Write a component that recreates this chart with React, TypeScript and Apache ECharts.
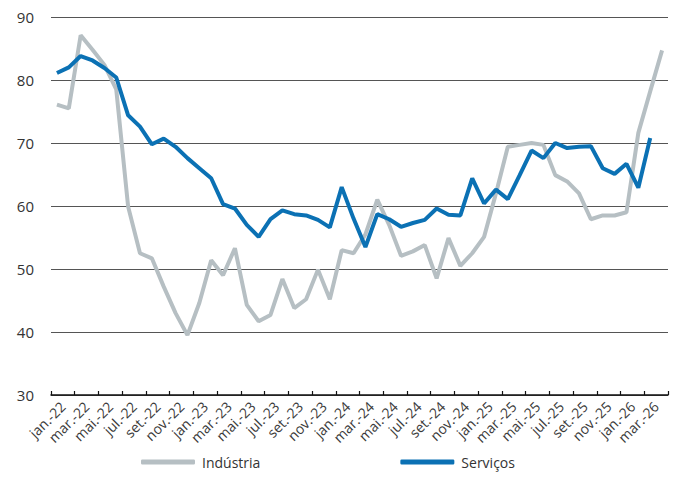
import React, { useEffect, useRef } from "react";
import * as echarts from "echarts";

const months: string[] = [
  "jan.-22", "fev.-22", "mar.-22", "abr.-22", "mai.-22", "jun.-22", "jul.-22", "ago.-22", "set.-22", "out.-22", "nov.-22", "dez.-22",
  "jan.-23", "fev.-23", "mar.-23", "abr.-23", "mai.-23", "jun.-23", "jul.-23", "ago.-23", "set.-23", "out.-23", "nov.-23", "dez.-23",
  "jan.-24", "fev.-24", "mar.-24", "abr.-24", "mai.-24", "jun.-24", "jul.-24", "ago.-24", "set.-24", "out.-24", "nov.-24", "dez.-24",
  "jan.-25", "fev.-25", "mar.-25", "abr.-25", "mai.-25", "jun.-25", "jul.-25", "ago.-25", "set.-25", "out.-25", "nov.-25", "dez.-25",
  "jan.-26", "fev.-26", "mar.-26", "abr.-26",
];

const industria: number[] = [
  76.1, 75.5, 87.1, 84.8, 82.4, 78.5, 59.9, 52.5, 51.7, 47.2, 43.0, 39.5,
  44.6, 51.4, 49.0, 53.3, 44.3, 41.7, 42.7, 48.4, 43.8, 45.2, 49.9, 45.2,
  53.0, 52.5, 55.5, 61.0, 57.0, 52.1, 52.8, 53.8, 48.5, 54.9, 50.5, 52.5,
  55.1, 62.0, 69.4, 69.7, 70.0, 69.7, 64.9, 63.9, 62.0, 57.9, 58.5, 58.5,
  59.0, 71.6, 78.2, 84.7,
];

const servicos: number[] = [
  81.1, 82.0, 83.8, 83.1, 81.9, 80.4, 74.4, 72.6, 69.8, 70.7, 69.4, 67.6,
  66.0, 64.4, 60.3, 59.6, 57.0, 55.1, 57.9, 59.3, 58.7, 58.5, 57.8, 56.6,
  63.0, 58.0, 53.5, 58.7, 57.9, 56.7, 57.3, 57.8, 59.6, 58.6, 58.5, 64.4,
  60.4, 62.6, 61.1, 64.9, 68.8, 67.6, 70.0, 69.2, 69.4, 69.5, 66.0, 65.1,
  66.7, 62.9, 70.8,
];

const tickLabels: string[] = months.filter((_, i) => i % 2 === 0);

const seriesNames = ["Indústria", "Serviços"];
const seriesColors = ["#B6BFC3", "#0B71B4"];

const FONT = "'Open Sans', 'Noto Sans', sans-serif";

export default function App() {
  const ref = useRef<HTMLDivElement>(null);

  useEffect(() => {
    if (!ref.current) return;
    const chart = echarts.init(ref.current, undefined, { renderer: "svg" });
    chart.setOption({
      animation: false,
      textStyle: { fontFamily: FONT },
      grid: { left: 51, right: 13, top: 17, bottom: 103, containLabel: false },
      legend: {
        left: 136,
        top: 450,
        itemWidth: 54,
        itemHeight: 5,
        itemGap: 140,
        icon: "roundRect",
        textStyle: { fontSize: 14, color: "#333", fontFamily: FONT, padding: [0, 0, 0, 2] },
        data: seriesNames,
      },
      xAxis: [
        {
          type: "category",
          data: months,
          boundaryGap: true,
          position: "bottom",
          axisLine: { show: true, lineStyle: { color: "#111", width: 1.5 } },
          axisTick: { show: true, inside: true, interval: 1, length: 4, lineStyle: { color: "#111", width: 1.2 } },
          axisLabel: { show: false },
          splitLine: { show: false },
        },
        {
          type: "category",
          data: tickLabels,
          boundaryGap: true,
          position: "bottom",
          offset: 0,
          axisLine: { show: false },
          axisTick: { show: false },
          axisLabel: {
            show: true,
            interval: 0,
            rotate: 45,
            margin: 9,
            fontSize: 14,
            color: "#3a3a3a",
            fontFamily: FONT,
          },
          splitLine: { show: false },
        },
      ],
      yAxis: {
        type: "value",
        min: 30,
        max: 90,
        interval: 10,
        axisLine: { show: false },
        axisTick: { show: false },
        axisLabel: { fontSize: 15, color: "#333", margin: 17, fontFamily: FONT },
        splitLine: { show: true, lineStyle: { color: "#555", width: 1.2 } },
      },
      series: [
        {
          name: seriesNames[0],
          type: "line",
          xAxisIndex: 0,
          data: industria,
          symbol: "none",
          lineStyle: { color: seriesColors[0], width: 4 },
          itemStyle: { color: seriesColors[0] },
          z: 2,
        },
        {
          name: seriesNames[1],
          type: "line",
          xAxisIndex: 0,
          data: servicos,
          symbol: "none",
          lineStyle: { color: seriesColors[1], width: 4 },
          itemStyle: { color: seriesColors[1] },
          z: 3,
        },
      ],
    });
    return () => chart.dispose();
  }, []);

  return <div ref={ref} style={{ width: 681, height: 498, position: "absolute", left: 0, top: 0 }} />;
}
